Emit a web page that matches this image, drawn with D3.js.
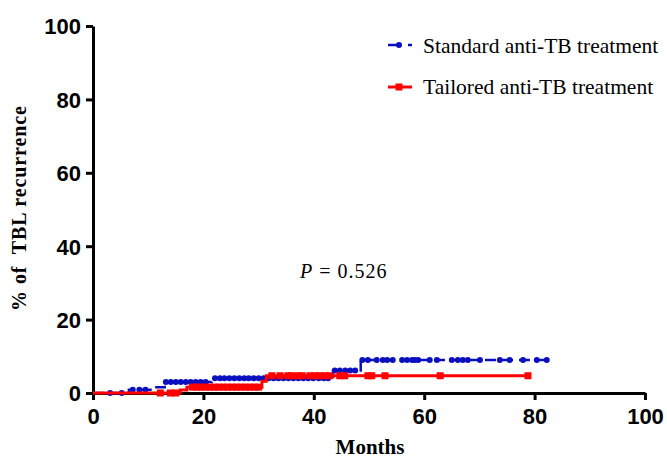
<!DOCTYPE html>
<html>
<head>
<meta charset="utf-8">
<script src="https://cdn.jsdelivr.net/npm/d3@7"></script>
<style>
  body { margin: 0; background: #fff; }
  .axis path, .axis line { stroke: #000; stroke-width: 3; }
  .axis text { font-family: "Liberation Sans", Arial, sans-serif; font-weight: bold; font-size: 22px; fill: #000; }
</style>
</head>
<body>
<div id="chart"></div>
<script>
// cumulative % of TBL recurrence (step changes), months
const standardTime = [0, 6.5, 11, 13, 21.5, 43.5, 48.5];
const standardPct = [0, 0.9, 1.6, 3.0, 4.0, 6.1, 9.0];
const standardEnd = 82.2;
const standardCensor = [3.1, 5.2, 7.2, 8.4, 9.5, 13.2, 14.1, 15, 15.9, 16.8, 17.7, 18.6, 19.5, 20.4,
  22.1, 23, 23.8, 24.7, 25.6, 26.5, 27.4, 28.2, 29.1, 30, 30.9, 31.8, 32.7, 33.6, 34.5, 35.4, 36.3, 37.2,
  38.1, 39, 39.9, 40.9, 41.8, 42.6, 43.8, 44.7, 45.7, 46.6, 47.5, 48.8, 49.8, 51.4, 52.5, 53.3, 54.3,
  56, 56.9, 57.8, 58.3, 58.9, 61, 62.3, 65, 66.1, 67, 67.9, 70.1, 73.7, 75.5, 77.9, 80.4, 82.2];

const tailoredTime = [0, 15.8, 17, 30.6, 31.4];
const tailoredPct = [0, 0.8, 1.6, 3.2, 4.7];
const tailoredEnd = 79;
const tailoredCensor = [12.2, 14, 15, 18, 18.8, 19.6, 20.4, 21.2, 22, 22.8, 23.6, 24.4, 25.2, 26, 26.8,
  27.6, 28.4, 29.2, 30, 32.4, 33.9, 35.3, 35.9, 37, 37.9, 39.3, 40.2, 41.1, 42, 42.9, 44.7, 45.6, 49.8,
  50.5, 52.9, 62.9, 78.8];

const xTicks = [0, 20, 40, 60, 80, 100];
const yTicks = [0, 20, 40, 60, 80, 100];

const specs = {
  width: 667,
  height: 461,
  margin: { top: 26, right: 22, bottom: 68, left: 93 },
};
const width = specs.width - specs.margin.left - specs.margin.right;
const height = specs.height - specs.margin.top - specs.margin.bottom;

const x = d3.scaleLinear().domain([0, 100]).range([0, width]);
const y = d3.scaleLinear().domain([0, 100]).range([height, 0]);

const svg = d3.select('#chart')
  .append('svg')
  .attr('width', specs.width)
  .attr('height', specs.height);

const g = svg.append('g')
  .attr('transform', `translate(${specs.margin.left},${specs.margin.top})`);

// step value lookup
function valueAt(times, pcts, t) {
  let v = pcts[0];
  times.forEach((tt, i) => { if (t >= tt) v = pcts[i]; });
  return v;
}
function stepPoints(times, pcts, end) {
  const pts = times.map((t, i) => [t, pcts[i]]);
  pts.push([end, pcts[pcts.length - 1]]);
  return pts;
}

const line = d3.line()
  .x(d => x(d[0]))
  .y(d => y(d[1]))
  .curve(d3.curveStepAfter);

// axes
g.append('g')
  .attr('class', 'axis axis--x')
  .attr('transform', `translate(0,${height})`)
  .call(d3.axisBottom(x).tickValues(xTicks).tickSize(7).tickSizeOuter(0).tickPadding(8));

g.append('g')
  .attr('class', 'axis axis--y')
  .call(d3.axisLeft(y).tickValues(yTicks).tickSize(7).tickSizeOuter(0).tickPadding(5));

g.selectAll('.axis text').attr('dy', null);
g.select('.axis--x').selectAll('text').attr('dy', '0.71em');
g.select('.axis--y').selectAll('text').attr('dy', '0.36em');

// standard (blue)
const blue = '#0a0fc0';
g.append('path')
  .datum(stepPoints(standardTime, standardPct, standardEnd))
  .attr('fill', 'none')
  .attr('stroke', blue)
  .attr('stroke-width', 2.5)
  .attr('stroke-dasharray', '11,6')
  .attr('d', line);

g.selectAll('.dot')
  .data(standardCensor)
  .enter()
  .append('circle')
  .attr('class', 'dot')
  .attr('cx', d => x(d))
  .attr('cy', d => y(valueAt(standardTime, standardPct, d)))
  .attr('r', 3)
  .attr('fill', blue);

// tailored (red)
const red = '#ff0000';
g.append('path')
  .datum(stepPoints(tailoredTime, tailoredPct, tailoredEnd))
  .attr('fill', 'none')
  .attr('stroke', red)
  .attr('stroke-width', 3)
  .attr('d', line);

g.selectAll('.sq')
  .data(tailoredCensor)
  .enter()
  .append('rect')
  .attr('class', 'sq')
  .attr('x', d => x(d) - 3.5)
  .attr('y', d => y(valueAt(tailoredTime, tailoredPct, d)) - 3.5)
  .attr('width', 7)
  .attr('height', 7)
  .attr('fill', red);

// axis titles
svg.append('text')
  .attr('x', 370)
  .attr('y', 454)
  .attr('text-anchor', 'middle')
  .style('font-family', '"Liberation Serif", "Times New Roman", serif')
  .style('font-weight', 'bold')
  .style('font-size', '21px')
  .text('Months');

svg.append('text')
  .attr('transform', 'translate(26,208) rotate(-90)')
  .attr('text-anchor', 'middle')
  .style('font-family', '"Liberation Serif", "Times New Roman", serif')
  .style('font-weight', 'bold')
  .style('font-size', '20px')
  .style('letter-spacing', '0.9px')
  .style('white-space', 'pre')
  .text('% of  TBL recurrence');

// p value
const pText = svg.append('text')
  .attr('x', 300)
  .attr('y', 278)
  .style('font-family', '"Liberation Serif", "Times New Roman", serif')
  .style('font-size', '20px')
  .style('letter-spacing', '1px')
  .style('white-space', 'pre');
pText.append('tspan').style('font-style', 'italic').text('P');
pText.append('tspan').text(' = 0.526');

// legend
const legend = svg.append('g');
const items = [
  { label: 'Standard anti-TB treatment', color: blue, y: 45, baseline: 53, type: 'circle' },
  { label: 'Tailored anti-TB treatment', color: red, y: 87, baseline: 94, type: 'square' },
];
items.forEach(it => {
  if (it.type === 'circle') {
    legend.append('line')
      .attr('x1', 388).attr('x2', 412).attr('y1', it.y).attr('y2', it.y)
      .attr('stroke', it.color).attr('stroke-width', 2.5)
      .attr('stroke-dasharray', '11,9');
    legend.append('circle').attr('cx', 399).attr('cy', it.y).attr('r', 3).attr('fill', it.color);
  } else {
    legend.append('line')
      .attr('x1', 388).attr('x2', 412).attr('y1', it.y).attr('y2', it.y)
      .attr('stroke', it.color).attr('stroke-width', 3);
    legend.append('rect').attr('x', 395.5).attr('y', it.y - 3.5).attr('width', 7).attr('height', 7).attr('fill', it.color);
  }
  legend.append('text')
    .attr('x', 423)
    .attr('y', it.baseline)
    .style('font-family', '"Liberation Serif", "Times New Roman", serif')
    .style('font-size', '21.5px')
    .text(it.label);
});
</script>
</body>
</html>
